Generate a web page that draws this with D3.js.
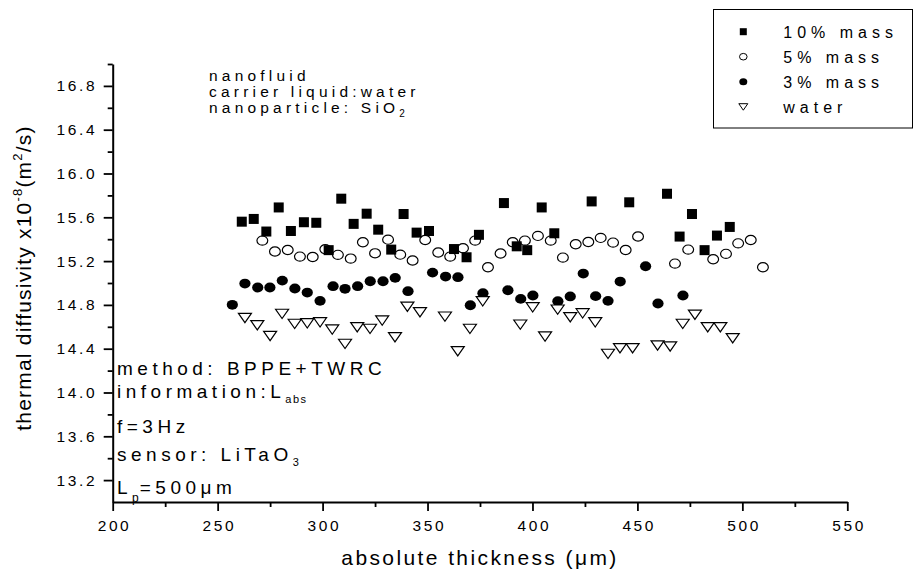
<!DOCTYPE html>
<html>
<head>
<meta charset="utf-8">
<script src="https://cdn.jsdelivr.net/npm/d3@7"></script>
<style>
  html, body { margin: 0; padding: 0; background: #fff; }
  svg { display: block; font-family: "Liberation Sans", Arial, sans-serif; }
</style>
</head>
<body>
<svg id="chart" width="916" height="571"></svg>
<script>
// Thermal diffusivity of SiO2 nanofluids vs. absolute sample thickness

// 10% mass
const thick10 = [261.5, 267.2, 273.2, 279.1, 284.9, 291.1, 297.0, 302.9, 308.9, 314.8, 321.0, 326.5, 332.7, 338.6, 344.8, 350.7, 362.6, 368.6, 374.5, 386.4, 392.5, 397.5, 404.4, 410.4, 428.2, 446.1, 464.1, 470.1, 476.0, 482.0, 487.9, 494.0];
const diff10  = [15.56, 15.585, 15.47, 15.69, 15.475, 15.555, 15.55, 15.30, 15.77, 15.54, 15.633, 15.487, 15.305, 15.63, 15.46, 15.475, 15.31, 15.235, 15.44, 15.73, 15.335, 15.30, 15.69, 15.454, 15.745, 15.737, 15.815, 15.424, 15.63, 15.30, 15.433, 15.512];

// 5% mass
const thick5 = [271.3, 277.3, 283.4, 289.2, 295.3, 301.3, 307.3, 313.4, 319.2, 325.0, 331.2, 337.0, 342.9, 348.9, 355.1, 360.8, 366.9, 372.7, 378.8, 384.8, 390.6, 396.4, 402.6, 408.7, 414.5, 420.6, 426.6, 432.5, 438.4, 444.4, 450.3, 467.9, 474.2, 486.1, 492.2, 498.0, 504.0, 509.8];
const diff5  = [15.387, 15.287, 15.302, 15.241, 15.238, 15.308, 15.257, 15.223, 15.372, 15.271, 15.396, 15.259, 15.205, 15.393, 15.278, 15.241, 15.317, 15.387, 15.144, 15.269, 15.372, 15.387, 15.43, 15.387, 15.232, 15.354, 15.375, 15.412, 15.369, 15.302, 15.424, 15.177, 15.305, 15.217, 15.266, 15.362, 15.393, 15.144];

// 3% mass
const thick3 = [257.0, 263.0, 269.1, 274.9, 280.8, 286.8, 292.7, 298.8, 305.0, 310.7, 316.7, 322.7, 328.8, 334.6, 340.7, 352.4, 358.6, 364.5, 370.4, 376.4, 388.3, 394.4, 400.2, 412.1, 418.0, 424.2, 430.1, 436.0, 441.8, 453.9, 459.8, 471.7];
const diff3  = [14.801, 14.995, 14.959, 14.959, 15.022, 14.95, 14.913, 14.837, 14.971, 14.947, 14.971, 15.016, 15.016, 15.047, 14.925, 15.095, 15.059, 15.053, 14.797, 14.907, 14.934, 14.855, 14.886, 14.834, 14.877, 15.086, 14.88, 14.837, 15.013, 15.153, 14.813, 14.886];

// pure water
const thickW = [263.0, 268.9, 275.0, 280.7, 286.7, 292.7, 298.8, 304.6, 310.7, 316.5, 322.6, 328.4, 334.5, 340.4, 346.4, 358.3, 364.4, 370.2, 376.3, 394.2, 400.1, 406.0, 412.0, 418.0, 423.9, 429.9, 436.0, 441.7, 447.7, 459.6, 465.6, 471.6, 477.4, 483.5, 489.5, 495.4];
const diffW  = [14.682, 14.615, 14.518, 14.719, 14.628, 14.633, 14.642, 14.576, 14.445, 14.597, 14.582, 14.658, 14.506, 14.785, 14.734, 14.694, 14.378, 14.582, 14.834, 14.621, 14.779, 14.512, 14.758, 14.688, 14.724, 14.642, 14.354, 14.405, 14.405, 14.43, 14.421, 14.628, 14.712, 14.597, 14.597, 14.497];

const xMajor = [200, 250, 300, 350, 400, 450, 500, 550];
const xMinor = [225, 275, 325, 375, 425, 475, 525];
const yMajor = [13.2, 13.6, 14.0, 14.4, 14.8, 15.2, 15.6, 16.0, 16.4, 16.8];
const yMinor = [13.4, 13.8, 14.2, 14.6, 15.0, 15.4, 15.8, 16.2, 16.6, 17.0];

const seriesNames = ["10% mass", "5% mass", "3% mass", "water"];

const svg = d3.select("#chart");
const x = d3.scaleLinear().domain([200, 550]).range([112.7, 847.3]);
const y = d3.scaleLinear().domain([13, 17]).range([502, 64]);

const FONT = '"Liberation Sans", Arial, sans-serif';

// ---- axes ----
function styleAxis(g) {
  g.select(".domain").attr("stroke", "#000").attr("stroke-width", 2);
  g.selectAll(".tick line").attr("stroke", "#000").attr("stroke-width", 1.8);
  g.selectAll("text").attr("fill", "#000").style("font-family", FONT)
    .style("font-size", "15.5px").style("letter-spacing", "2.6px");
}

const xAxis = svg.append("g").attr("transform", "translate(0,502)")
  .call(d3.axisBottom(x).tickValues(xMajor).tickFormat(d3.format("d"))
    .tickSize(9).tickPadding(9).tickSizeOuter(0));
styleAxis(xAxis);
xAxis.selectAll("text").attr("dx", "1.3px");

svg.append("g").attr("transform", "translate(0,502)")
  .call(d3.axisBottom(x).tickValues(xMinor).tickFormat("").tickSize(5).tickSizeOuter(0))
  .call(g => { g.select(".domain").remove(); g.selectAll(".tick line").attr("stroke", "#000").attr("stroke-width", 1.8); });

const yAxis = svg.append("g").attr("transform", "translate(112.7,0)")
  .call(d3.axisLeft(y).tickValues(yMajor).tickFormat(d3.format(".1f"))
    .tickSize(9).tickPadding(6.5).tickSizeOuter(0));
styleAxis(yAxis);

svg.append("g").attr("transform", "translate(112.7,0)")
  .call(d3.axisLeft(y).tickValues(yMinor).tickFormat("").tickSize(5).tickSizeOuter(0))
  .call(g => { g.select(".domain").remove(); g.selectAll(".tick line").attr("stroke", "#000").attr("stroke-width", 1.8); });

// ---- axis titles ----
svg.append("text")
  .attr("x", 480).attr("y", 565).attr("text-anchor", "middle")
  .style("font-size", "21px").style("letter-spacing", "2.4px")
  .text("absolute thickness (\u03bcm)");

const yTitle = svg.append("text")
  .attr("transform", "translate(31,278) rotate(-90)")
  .attr("text-anchor", "middle")
  .style("font-size", "21px").style("letter-spacing", "1.2px");
yTitle.append("tspan").text("thermal diffusivity x10");
yTitle.append("tspan").attr("dy", -9).style("font-size", "13px").text("-8");
yTitle.append("tspan").attr("dy", 9).text("(m");
yTitle.append("tspan").attr("dy", -9).style("font-size", "13px").text("2");
yTitle.append("tspan").attr("dy", 9).text("/s)");

// ---- markers ----
const trianglePath = "M-6.5,-4.5L6.5,-4.5L0,4.8Z";

const plot = svg.append("g");

plot.selectAll("rect.s10").data(d3.zip(thick10, diff10)).join("rect")
  .attr("class", "s10")
  .attr("x", d => x(d[0]) - 5).attr("y", d => y(d[1]) - 5)
  .attr("width", 10).attr("height", 10).attr("fill", "#000");

plot.selectAll("ellipse.s3").data(d3.zip(thick3, diff3)).join("ellipse")
  .attr("class", "s3")
  .attr("cx", d => x(d[0])).attr("cy", d => y(d[1]))
  .attr("rx", 5.6).attr("ry", 4.9).attr("fill", "#000");

plot.selectAll("path.sw").data(d3.zip(thickW, diffW)).join("path")
  .attr("class", "sw")
  .attr("transform", d => `translate(${x(d[0])},${y(d[1])})`)
  .attr("d", trianglePath)
  .attr("fill", "#fff").attr("stroke", "#000").attr("stroke-width", 1.2);

plot.selectAll("ellipse.s5").data(d3.zip(thick5, diff5)).join("ellipse")
  .attr("class", "s5")
  .attr("cx", d => x(d[0])).attr("cy", d => y(d[1]))
  .attr("rx", 5.4).attr("ry", 4.6)
  .attr("fill", "none").attr("stroke", "#000").attr("stroke-width", 1.2);

// ---- legend ----
const legend = svg.append("g");
legend.append("rect")
  .attr("x", 713.5).attr("y", 9.5).attr("width", 199).attr("height", 118.5)
  .attr("fill", "#fff").attr("stroke", "#000").attr("stroke-width", 1);

const legY = [31.7, 56.7, 81.7, 106.7];
const legX = 743.3;
legend.append("rect").attr("x", legX - 3.5).attr("y", legY[0] - 3.5).attr("width", 7).attr("height", 7).attr("fill", "#000");
legend.append("ellipse").attr("cx", legX).attr("cy", legY[1]).attr("rx", 3.8).attr("ry", 3.3)
  .attr("fill", "none").attr("stroke", "#000").attr("stroke-width", 1);
legend.append("ellipse").attr("cx", legX).attr("cy", legY[2]).attr("rx", 4).attr("ry", 3.5).attr("fill", "#000");
legend.append("path").attr("transform", `translate(${legX},${legY[3]})`)
  .attr("d", "M-4.5,-3L4.5,-3L0,3.5Z").attr("fill", "#fff").attr("stroke", "#000").attr("stroke-width", 1);

legend.selectAll("text.leg").data(seriesNames).join("text")
  .attr("class", "leg")
  .attr("x", 783.3).attr("y", (d, i) => legY[i] + 5.8)
  .style("font-size", "16px").style("letter-spacing", "5px")
  .text(d => d);

// ---- annotations (top) ----
const topNote = svg.append("g").style("font-size", "15.5px").style("letter-spacing", "4.2px");
topNote.append("text").attr("x", 209).attr("y", 81).text("nanofluid");
topNote.append("text").attr("x", 209).attr("y", 97).text("carrier liquid:water");
const np = topNote.append("text").attr("x", 209).attr("y", 112.5);
np.append("tspan").text("nanoparticle: SiO");
np.append("tspan").attr("dy", 4).style("font-size", "10px").text("2");

// ---- annotations (bottom left) ----
const leftNote = svg.append("g").style("font-size", "19px").style("letter-spacing", "4.5px");
leftNote.append("text").attr("x", 117).attr("y", 375).text("method: BPPE+TWRC");
const inf = leftNote.append("text").attr("x", 117).attr("y", 398);
inf.append("tspan").text("information:L");
inf.append("tspan").attr("dy", 5).style("font-size", "11px").style("letter-spacing", "1.5px").text("abs");
leftNote.append("text").attr("x", 117).attr("y", 433).text("f=3Hz");
const sen = leftNote.append("text").attr("x", 117).attr("y", 461);
sen.append("tspan").text("sensor: LiTaO");
sen.append("tspan").attr("dy", 5).style("font-size", "11px").text("3");
const lp = leftNote.append("text").attr("x", 117).attr("y", 494);
lp.append("tspan").text("L");
lp.append("tspan").attr("dy", 8).style("font-size", "12px").style("letter-spacing", "1px").text("p");
lp.append("tspan").attr("dy", -8).text("=500\u03bcm");
</script>
</body>
</html>
